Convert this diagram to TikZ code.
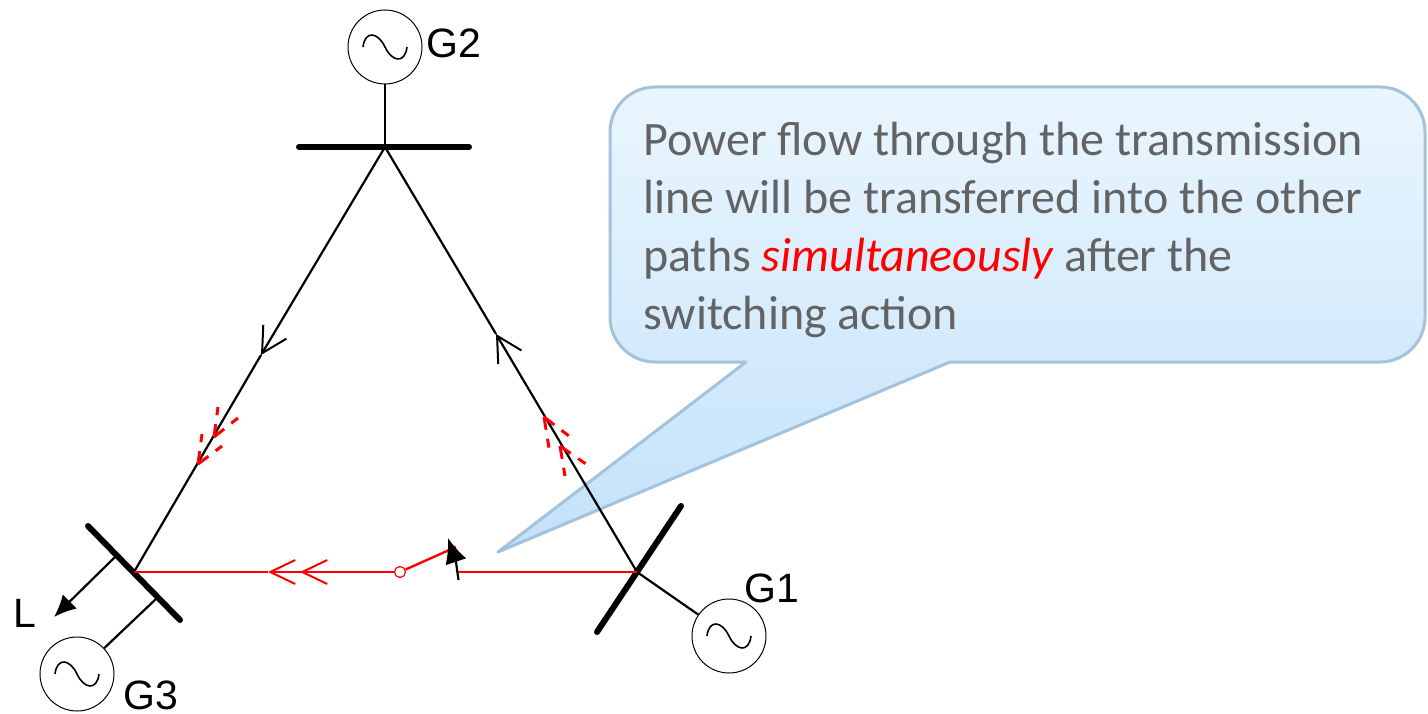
\documentclass[tikz,border=0pt]{standalone}
\usepackage{fontspec}
\setmainfont{Liberation Sans}
\newfontfamily\calloutfont{Carlito}
\usetikzlibrary{arrows.meta}

\definecolor{calloutedge}{HTML}{A3C2DC}
\definecolor{callouttext}{HTML}{636363}

\tikzset{
  gen/.style={circle,draw=black,line width=1pt,minimum size=74pt,inner sep=0pt,
    path picture={
      \draw[line width=1.6pt,shift={(path picture bounding box.center)}]
        (-22,0) .. controls (-20,-17) and (-7,-15) .. (0,0)
        .. controls (7,15) and (20,17) .. (22,0);
    }},
  genlabel/.style={font=\fontsize{41}{48}\selectfont,inner sep=0pt},
  bus/.style={line width=6pt,line cap=round},
  wire/.style={line width=2.2pt},
  redwire/.style={line width=2.4pt,red},
  barb/.style={-{Straight Barb[length=25pt,width=27pt,line width=2pt]}},
  redbarb/.style={-{Straight Barb[length=25pt,width=24pt,line width=2pt]}},
  dashbarb/.style={red,line width=3pt,dash pattern=on 13pt off 9pt on 9pt}
}

\begin{document}
\begin{tikzpicture}[x=1pt,y=-1pt]
    \useasboundingbox (0,0) rectangle (1428,714);

    % Callout
    \draw[draw=calloutedge,line width=3pt,line join=round,top color={rgb,255:red,234;green,246;blue,254},
      middle color={rgb,255:red,206;green,230;blue,251},bottom color={rgb,255:red,195;green,225;blue,250}]
      (746,362) -- (498,552) -- (950,362) [rounded corners=45pt] -- (1425,362)
      -- (1425,87) -- (610,87) -- (610,362) [sharp corners] -- cycle;
    \node[font=\calloutfont\fontsize{48}{58}\selectfont,text=callouttext,align=left,anchor=north west,inner sep=0pt]
      (msg) at (643,122) {Power flow through the transmission\\line will be transferred into the other\\paths \textcolor{red}{\itshape simultaneously} after the\\switching action};

    %% Generators
    \node[gen] (g2) at (385,47) {};
    \node[gen] (g1) at (729,636) {};
    \node[gen] (g3) at (77,674) {};
    \node[genlabel,anchor=west] (g2label) at (426,43) {G2};
    \node[genlabel,anchor=west] (g1label) at (744,588) {G1};
    \node[genlabel,anchor=west] (g3label) at (123,695) {G3};
    \node[genlabel,anchor=west] (load) at (13,613) {L};

    %% Bus bars
    \coordinate (top) at (385,147);
    \coordinate (right) at (637,572);
    \coordinate (left) at (134,572);
    \draw[bus] (299,147) -- (469,147);
    \draw[bus] (597,632) -- (681,506);
    \draw[bus] (88,526) -- (180,620);

    %% Stubs
    \draw[wire] (g2) -- (top);
    \draw[wire] (right) -- (g1);
    \coordinate (g3tap) at (157,598);
    \draw[wire] (g3tap) -- (g3);
    \coordinate (ltap) at (115,557);
    \coordinate (ltip) at (54,617);
    \draw[wire,-{Latex[length=22pt,width=20pt]}] (ltap) -- (ltip);

    %% Lines to the top bus
    \coordinate (ltop) at (261,355);
    \coordinate (rtop) at (496,334);
    \draw[wire,barb] (top) -- (ltop);
    \draw[wire] (ltop) -- (left);
    \draw[wire,barb] (right) -- (rtop);
    \draw[wire] (rtop) -- (top);

    %% Dashed flow arrows
    \foreach \tx/\ty/\ax/\ay/\bx/\by in {
        214/437/218/407/238/418, 198/464/202/434/222/446,
        544/417/549/448/569/436, 560/446/565/476/586/464}{
      \draw[dashbarb] (\tx,\ty) -- (\ax,\ay);
      \draw[dashbarb] (\tx,\ty) -- (\bx,\by);
    }

    %% Switched line
    \node[circle,draw=red,fill=white,line width=1.2pt,minimum size=11pt,inner sep=0pt] (sw) at (400,572) {};
    \coordinate (contact) at (458,572);
    \coordinate (blade) at (456,547);
    \coordinate (flowa) at (268,572);
    \coordinate (flowb) at (300,572);
    \draw[redwire] (flowa) -- (left);
    \draw[redwire,redbarb] (sw) -- (flowa);
    \draw[redwire,redbarb] (sw) -- (flowb);
    \draw[redwire] (sw) -- (blade);
    \draw[redwire] (contact) -- (right);

    %% Opening arrow
    \coordinate (pivot) at (458.5,580);
    \coordinate (swing) at (448,538);
    \draw[wire] (pivot) -- (456,562);
    \draw[wire,-{Latex[length=25pt,width=22pt]}] (456,562) -- (swing);
  \end{tikzpicture}
\end{document}
